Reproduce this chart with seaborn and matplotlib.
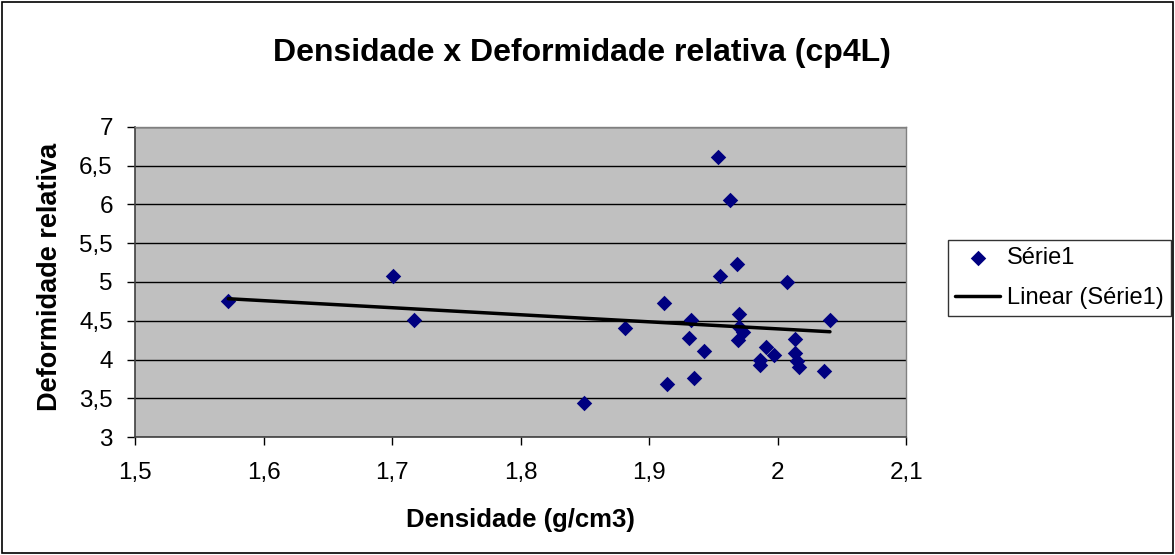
import matplotlib
matplotlib.use("Agg")
import matplotlib.pyplot as plt
import numpy as np
import pandas as pd
import seaborn as sns
from matplotlib.patches import Rectangle

# densidade (g/cm3) e deformidade relativa
densidade = [1.5726, 1.7007, 1.7168, 1.8496, 1.8812, 1.9116, 1.9142, 1.9308,
             1.9326, 1.9352, 1.9427, 1.9537, 1.9551, 1.9627, 1.9686, 1.9689,
             1.9702, 1.9702, 1.9733, 1.9862, 1.9865, 1.9909, 1.9971, 2.0075,
             2.0137, 2.0137, 2.0153, 2.0168, 2.0360, 2.0407]
deformidade = [4.755, 5.081, 4.506, 3.435, 4.406, 4.733, 3.680, 4.280,
               4.510, 3.757, 4.110, 6.610, 5.081, 6.060, 5.228, 4.250,
               4.587, 4.420, 4.355, 3.929, 3.994, 4.157, 4.058, 5.004,
               4.260, 4.080, 3.985, 3.900, 3.856, 4.506]

x_ticks = [1.5, 1.6, 1.7, 1.8, 1.9, 2.0, 2.1]
x_labels = ["1,5", "1,6", "1,7", "1,8", "1,9", "2", "2,1"]
y_ticks = [3, 3.5, 4, 4.5, 5, 5.5, 6, 6.5, 7]
y_labels = ["3", "3,5", "4", "4,5", "5", "5,5", "6", "6,5", "7"]

df = pd.DataFrame({"Densidade": densidade, "Deformidade": deformidade})

sns.set_style("white")
plt.rcParams["font.family"] = ["Liberation Sans", "DejaVu Sans"]
plt.rcParams.update({"text.color": "black", "axes.labelcolor": "black",
                     "xtick.color": "black", "ytick.color": "black"})

fig = plt.figure(figsize=(11.75, 5.55), dpi=100)
fig.patch.set_facecolor("white")
ax = fig.add_axes([0.1149, 0.2126, 0.6563, 0.5586])
ax.set_facecolor("#C0C0C0")

sns.scatterplot(data=df, x="Densidade", y="Deformidade", ax=ax, marker="D",
                s=62, color="#000080", edgecolor="#000080", linewidth=0,
                label="Série1", zorder=3)
sns.regplot(data=df, x="Densidade", y="Deformidade", ax=ax, scatter=False,
            ci=None, line_kws={"color": "black", "lw": 2.5, "zorder": 4},
            label="Linear (Série1)")

ax.set_xlim(1.5, 2.1)
ax.set_ylim(3, 7)
ax.set_xticks(x_ticks)
ax.set_xticklabels(x_labels, fontsize=17.5)
ax.set_yticks(y_ticks)
ax.set_yticklabels(y_labels, fontsize=17.5)
ax.yaxis.grid(True, color="black", lw=1)
ax.xaxis.grid(False)
ax.tick_params(axis="x", direction="out", length=6, width=1,
               color="black", bottom=True, pad=12)
ax.tick_params(axis="y", direction="out", length=6, width=1,
               color="black", left=True, pad=10)
for side in ["left", "bottom"]:
    ax.spines[side].set_color("#404040")
    ax.spines[side].set_linewidth(1.2)
for side in ["top", "right"]:
    ax.spines[side].set_color("#808080")
    ax.spines[side].set_linewidth(1)

ax.set_xlabel("Densidade (g/cm3)", fontsize=18.5, fontweight="bold")
ax.set_ylabel("Deformidade relativa", fontsize=19.5, fontweight="bold")
ax.xaxis.set_label_coords(0.5, -0.228)
ax.yaxis.set_label_coords(-0.094, 0.516)
fig.text(0.495, 0.904, "Densidade x Deformidade relativa (cp4L)",
         ha="center", va="center", fontsize=23, fontweight="bold")

leg = ax.legend(loc="upper left", bbox_to_anchor=(948 / 1175, 1 - 240 / 555),
                bbox_transform=fig.transFigure, borderaxespad=0,
                fontsize=17, frameon=True, fancybox=False, edgecolor="black",
                handlelength=1.9, handletextpad=0.3, borderpad=0.3,
                labelspacing=0.75)
leg.get_frame().set_linewidth(1)

fig.patches.append(Rectangle((0.002, 0.003), 0.996, 0.994, transform=fig.transFigure,
                             fill=False, edgecolor="black", lw=1.2))

fig.savefig("out.png", dpi=100)
